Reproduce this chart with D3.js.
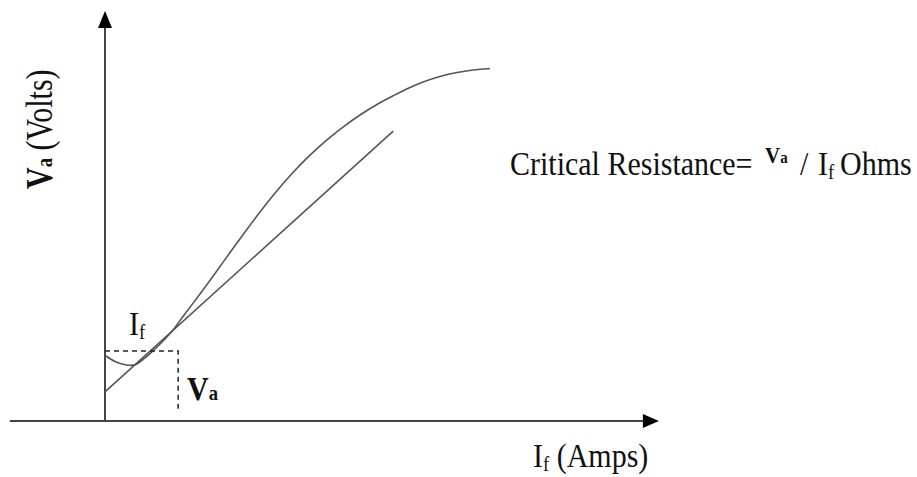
<!DOCTYPE html>
<html><head><meta charset="utf-8">
<script src="https://cdn.jsdelivr.net/npm/d3@7"></script>
<style>body{margin:0;background:#fff}svg{display:block}text{font-family:"Liberation Serif","Times New Roman",serif;fill:#111}</style>
</head><body><svg id="c" width="917" height="477"></svg>
<script>
// magnetization (open-circuit) curve, arbitrary units
const curveI = [0.018,0.182,0.309,0.418,0.545,0.727,0.909,1.055,1.218,1.418,1.727,2.0,2.273,2.545,2.818,3.127,3.418,3.727,4.036,4.327,4.636,4.945,5.236,5.545,5.782,6.091,6.4,6.691,7.0];
const curveV = [1.585,1.451,1.39,1.361,1.371,1.537,1.756,1.951,2.188,2.549,3.098,3.598,4.11,4.61,5.098,5.616,6.061,6.483,6.856,7.168,7.463,7.72,7.929,8.134,8.268,8.402,8.5,8.561,8.598];
// critical resistance line
const lineI = [0, 5.24];
const lineV = [0.71, 7.07];
// dashed operating point
const opI = 1.33, opV = 1.71, opVbottom = 0.22;
// axis extents
const axisXmin = -1.73, axisXmax = 10.07, axisYmax = 10.0;

const svg = d3.select("#c");
const x = d3.scaleLinear().domain([0, 10]).range([105, 655]);
const y = d3.scaleLinear().domain([0, 10]).range([421, 11]);

// axes
svg.append("line").attr("x1", x(axisXmin)).attr("x2", x(axisXmax) - 12).attr("y1", y(0)).attr("y2", y(0))
  .attr("stroke", "#444").attr("stroke-width", 2);
svg.append("path").attr("d", `M${x(axisXmax)},${y(0)} L${x(axisXmax)-16},${y(0)-7} L${x(axisXmax)-16},${y(0)+7} Z`).attr("fill", "#000");
svg.append("line").attr("x1", x(0)).attr("x2", x(0)).attr("y1", y(0)).attr("y2", y(axisYmax) + 12)
  .attr("stroke", "#444").attr("stroke-width", 2);
svg.append("path").attr("d", `M${x(0)},${y(axisYmax)} L${x(0)-7},${y(axisYmax)+17} L${x(0)+7},${y(axisYmax)+17} Z`).attr("fill", "#000");

// curve
const pts = curveI.map((d, i) => [d, curveV[i]]);
const gen = d3.line().x(d => x(d[0])).y(d => y(d[1])).curve(d3.curveCatmullRom.alpha(0.5));
svg.append("path").attr("d", gen(pts)).attr("fill", "none").attr("stroke", "#555").attr("stroke-width", 1.6);

// straight line
svg.append("line").attr("x1", x(lineI[0])).attr("y1", y(lineV[0])).attr("x2", x(lineI[1])).attr("y2", y(lineV[1]))
  .attr("stroke", "#555").attr("stroke-width", 1.6);

// dashed
svg.append("path").attr("d", `M${x(0)},${y(opV)} L${x(opI)},${y(opV)} L${x(opI)},${y(opVbottom)}`)
  .attr("fill", "none").attr("stroke", "#222").attr("stroke-width", 1.5).attr("stroke-dasharray", "5,4");

// labels
const fs = 30, sub = 18.6;
// Y label
const yl = svg.append("text").attr("transform", "translate(52,189) rotate(-90) scale(1,1.25)").attr("font-size", fs);
yl.append("tspan").attr("font-weight", "bold").text("V");
yl.append("tspan").attr("font-weight", "bold").attr("font-size", sub).text("a");
yl.append("tspan").text(" (Volts)");

// X label
const xl = svg.append("text").attr("transform", "translate(533,467) scale(1,1.1)").attr("font-size", fs);
xl.append("tspan").text("I");
xl.append("tspan").attr("font-size", sub).attr("dy", 4).text("f");
xl.append("tspan").attr("dy", -4).text(" (Amps)");

// If label near curve
const il = svg.append("text").attr("transform", "translate(129,335) scale(1,1.1)").attr("font-size", fs);
il.append("tspan").text("I");
il.append("tspan").attr("font-size", sub).attr("dy", 4).text("f");

// Va label
const vl = svg.append("text").attr("transform", "translate(187,400) scale(1,1.1)").attr("font-size", fs).attr("font-weight", "bold");
vl.append("tspan").text("V");
vl.append("tspan").attr("font-size", sub).text("a");

// Formula
const fl = svg.append("text").attr("transform", "translate(510,175) scale(1,1.1)").attr("font-size", fs);
fl.append("tspan").text("Critical Resistance=");
fl.append("tspan").attr("x", 255).attr("font-weight", "bold").attr("font-size", 21).attr("dy", -11).text("V");
fl.append("tspan").attr("font-weight", "bold").attr("font-size", 15).text("a");
fl.append("tspan").attr("x", 290).attr("dy", 11).text("/");
fl.append("tspan").attr("x", 308).text("I");
fl.append("tspan").attr("font-size", sub).attr("dy", 4).text("f");
fl.append("tspan").attr("x", 330).attr("dy", -4).text("Ohms");
</script></body></html>
